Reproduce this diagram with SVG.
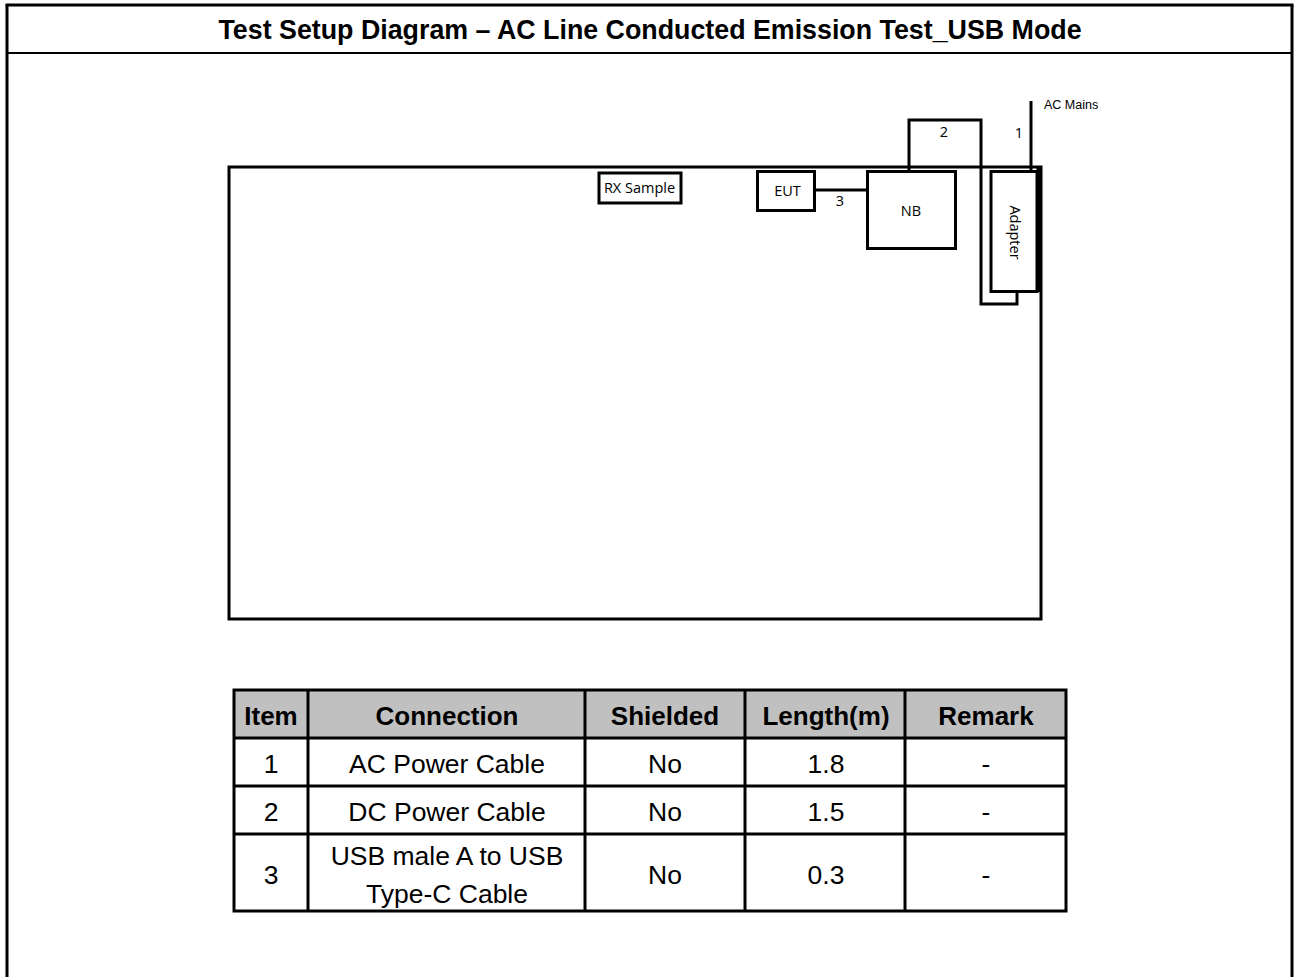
<svg xmlns="http://www.w3.org/2000/svg" width="1295" height="977" viewBox="0 0 1295 977">
<style>
.frame{fill:none;stroke:#000}
.box{fill:#fff;stroke:#000;stroke-width:3}
.wire{fill:none;stroke:#000;stroke-width:3}
.lbl{font-family:"Open Sans","Noto Sans",sans-serif;font-size:14.5px;fill:#000}
.ttl{font-family:"Liberation Sans",Arial,sans-serif;font-weight:bold;font-size:26.8px;fill:#000}
.th{font-family:"Liberation Sans",Arial,sans-serif;font-weight:bold;font-size:26px;fill:#000;text-anchor:middle}
.td{font-family:"Liberation Sans",Arial,sans-serif;font-size:26.5px;fill:#000;text-anchor:middle}
.grid{stroke:#000;stroke-width:3;fill:none}
</style>
<rect width="1295" height="977" fill="#fff"/>
<g id="page-frame">
<line x1="7" y1="5" x2="7" y2="977" class="frame" stroke-width="3"/>
<line x1="1292" y1="5" x2="1292" y2="977" class="frame" stroke-width="3"/>
<line x1="5.5" y1="5" x2="1293.5" y2="5" class="frame" stroke-width="3"/>
<line x1="7" y1="53" x2="1292" y2="53" class="frame" stroke-width="2"/>
<text x="650" y="38.5" class="ttl" text-anchor="middle">Test Setup Diagram – AC Line Conducted Emission Test_USB Mode</text>
</g>
<g id="table-area">
<rect x="229" y="167" width="812" height="452" class="box"/>
</g>
<g id="connectors">
<line x1="815" y1="190" x2="867" y2="190" class="wire"/>
<polyline points="909,170 909,120 981,120 981,304 1017,304 1017,292" class="wire"/>
<line x1="1031" y1="101" x2="1031" y2="170" class="wire"/>
<line x1="1039" y1="167" x2="1039" y2="292" stroke="#000" stroke-width="5"/>
</g>
<g id="rx-sample">
<rect x="599" y="173" width="82" height="30" class="box"/>
<text x="639.5" y="193" class="lbl" text-anchor="middle" font-size="16">RX Sample</text>
</g>
<g id="eut">
<rect x="757.5" y="171.5" width="57" height="39" class="box"/>
<text x="787.5" y="196" class="lbl" text-anchor="middle">EUT</text>
</g>
<g id="nb">
<rect x="867.5" y="171.5" width="88" height="77" class="box"/>
<text x="911" y="216" class="lbl" text-anchor="middle">NB</text>
</g>
<g id="adapter">
<rect x="991" y="171.5" width="46" height="120" class="box"/>
<text transform="translate(1009.5,232.5) rotate(90)" class="lbl" text-anchor="middle" font-size="11.2">Adapter</text>
</g>
<g id="labels">
<text x="840" y="206" class="lbl" text-anchor="middle" font-size="13.5">3</text>
<text x="944" y="137" class="lbl" text-anchor="middle" font-size="13.5">2</text>
<text x="1019" y="138" class="lbl" text-anchor="middle" font-size="13.5">1</text>
<text x="1044" y="109" font-family="Liberation Sans,Arial,sans-serif" font-size="12.5">AC Mains</text>
</g>
<g id="connection-table">
<rect x="234" y="690" width="832" height="48" fill="#c0c0c0"/>
<rect x="234" y="690" width="832" height="221" class="grid"/>
<line x1="234" y1="738" x2="1066" y2="738" class="grid"/>
<line x1="234" y1="786" x2="1066" y2="786" class="grid"/>
<line x1="234" y1="834" x2="1066" y2="834" class="grid"/>
<line x1="308" y1="690" x2="308" y2="911" class="grid"/>
<line x1="585" y1="690" x2="585" y2="911" class="grid"/>
<line x1="745" y1="690" x2="745" y2="911" class="grid"/>
<line x1="905" y1="690" x2="905" y2="911" class="grid"/>
<text x="271" y="725" class="th">Item</text>
<text x="447" y="725" class="th">Connection</text>
<text x="665" y="725" class="th">Shielded</text>
<text x="826" y="725" class="th">Length(m)</text>
<text x="986" y="725" class="th">Remark</text>
<text x="271" y="773" class="td">1</text>
<text x="447" y="773" class="td">AC Power Cable</text>
<text x="665" y="773" class="td">No</text>
<text x="826" y="773" class="td">1.8</text>
<text x="986" y="773" class="td">-</text>
<text x="271" y="821" class="td">2</text>
<text x="447" y="821" class="td">DC Power Cable</text>
<text x="665" y="821" class="td">No</text>
<text x="826" y="821" class="td">1.5</text>
<text x="986" y="821" class="td">-</text>
<text x="271" y="884" class="td">3</text>
<text x="447" y="865" class="td">USB male A to USB</text>
<text x="447" y="903" class="td">Type-C Cable</text>
<text x="665" y="884" class="td">No</text>
<text x="826" y="884" class="td">0.3</text>
<text x="986" y="884" class="td">-</text>
</g>
</svg>
